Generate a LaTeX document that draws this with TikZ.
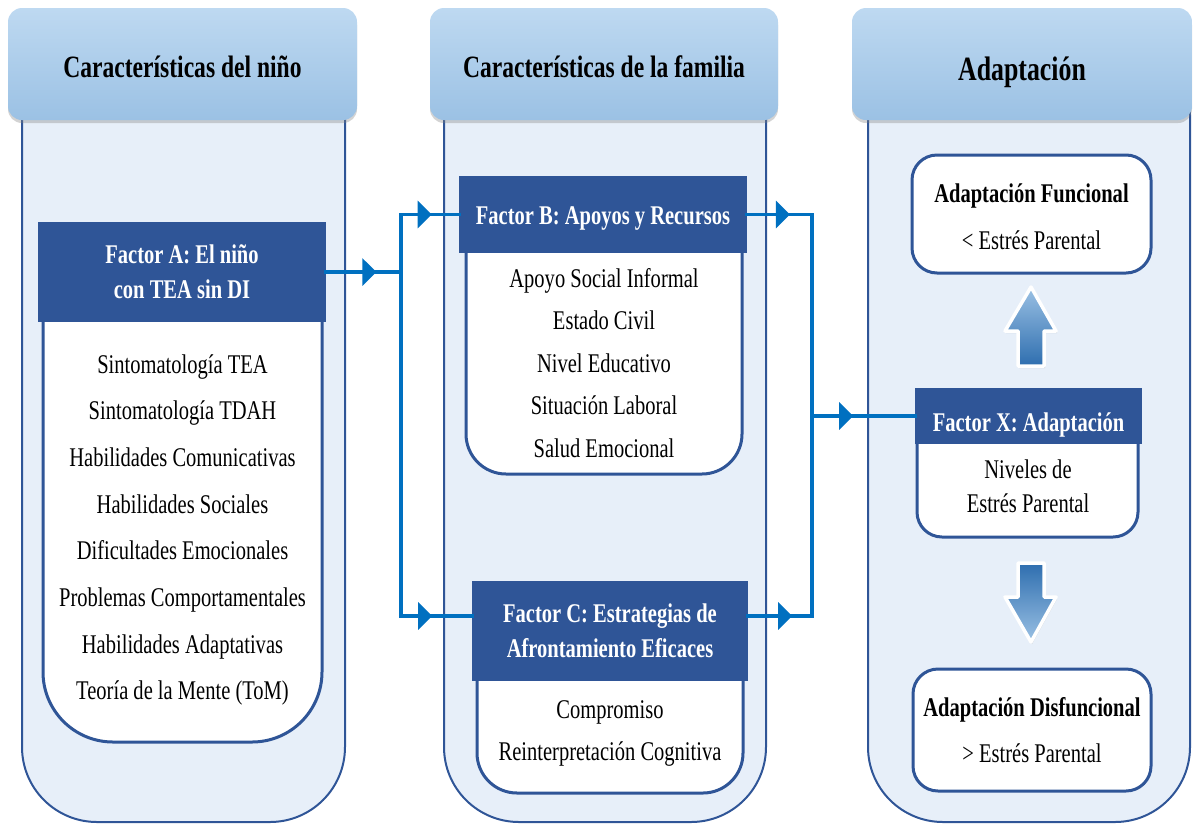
\documentclass[tikz,border=0pt]{standalone}
\usepackage{fontspec}
\setmainfont{Liberation Serif}[FakeStretch=0.76]
\usetikzlibrary{positioning,shadows,arrows.meta,decorations.markings}

\definecolor{frameblue}{RGB}{47,85,151}
\definecolor{paleblue}{RGB}{231,239,249}
\definecolor{headtop}{RGB}{190,217,241}
\definecolor{headbot}{RGB}{155,193,228}
\definecolor{linkblue}{RGB}{0,112,192}
\definecolor{arrowdark}{RGB}{46,110,175}

\tikzset{
  colbody/.style={draw=frameblue, line width=2pt, fill=paleblue, rounded corners=75pt, inner sep=0pt},
  colhead/.style={top color=headtop, bottom color=headbot, rounded corners=14pt, inner sep=0pt,
    drop shadow={opacity=0.35, shadow xshift=0pt, shadow yshift=-3pt},
    text height=27pt, text depth=0pt,
    font=\fontsize{31}{36}\selectfont\bfseries},
  factorbox/.style={fill=frameblue, text=white, inner sep=0pt, align=center,
    font=\fontsize{27}{35}\selectfont\bfseries},
  listbox/.style={draw=frameblue, line width=3pt, fill=white, inner sep=0pt},
  listtext/.style={align=center, inner sep=0pt, font=\fontsize{27}{#1}\selectfont},
  link/.style={draw=linkblue, line width=3.5pt, line cap=rect},
  tipat/.style={postaction={decorate}, decoration={markings,
    mark=at position #1 with {\arrow{Triangle[length=14pt,width=27pt]}}}},
  fatarrow/.style={draw=white, line width=3.5pt, line join=round,
    drop shadow={opacity=0.3, shadow xshift=1pt, shadow yshift=-2pt}}
}

\begin{document}
\begin{tikzpicture}[x=1pt,y=-1pt]
  \useasboundingbox (0,0) rectangle (1193,825);

  % columns
  \node[colbody, minimum width=323, minimum height=782] (colA) at (183.5,431) {};
  \node[colbody, minimum width=322, minimum height=782] (colB) at (605,431) {};
  \node[colbody, minimum width=322, minimum height=782] (colX) at (1029,431) {};

  \node[colhead, minimum width=349, minimum height=112] (hdA) at (182.5,64) {Características del niño};
  \node[colhead, minimum width=348, minimum height=112] (hdB) at (604,64) {Características de la familia};
  \node[colhead, minimum width=340, minimum height=112, text height=32pt,
    font=\fontsize{34}{38}\selectfont\bfseries] (hdX) at (1022,64) {Adaptación};

  % factor A
  \node[listbox, rounded corners=70pt, minimum width=279, minimum height=492] (listA) at (182.5,496) {};
  \node[factorbox, minimum width=288, minimum height=100] (facA) at (182,272) {Factor A: El niño\\con TEA sin DI};
  \node[listtext=46.7] (txtA) at (182.5,530) {Sintomatología TEA\\Sintomatología TDAH\\Habilidades Comunicativas\\Habilidades Sociales\\Dificultades Emocionales\\Problemas Comportamentales\\Habilidades Adaptativas\\Teoría de la Mente (ToM)};

  % factor B
  \node[listbox, rounded corners=40pt, minimum width=276, minimum height=284] (listB) at (604,332) {};
  \node[factorbox, minimum width=288, minimum height=77, text height=19pt, text depth=0pt] (facB) at (603,214.5) {Factor B: Apoyos y Recursos};
  \node[listtext=42.5] (txtB) at (604,363) {Apoyo Social Informal\\Estado Civil\\Nivel Educativo\\Situación Laboral\\Salud Emocional};

  % factor C
  \node[listbox, rounded corners=40pt, minimum width=266, minimum height=193] (listC) at (610,696.5) {};
  \node[factorbox, minimum width=276, minimum height=100] (facC) at (610,631) {Factor C: Estrategias de\\Afrontamiento Eficaces};
  \node[listtext=42] (txtC) at (610,733) {Compromiso\\Reinterpretación Cognitiva};

  % adaptacion
  \node[listbox, rounded corners=25pt, minimum width=239, minimum height=118] (func) at (1031.5,214) {};
  \node[listtext=47] (txtF) at (1031.5,217) {{\bfseries Adaptación Funcional}\\< Estrés Parental};
  \node[listbox, rounded corners=25pt, minimum width=221, minimum height=137] (listX) at (1027.5,468.5) {};
  \node[factorbox, minimum width=227, minimum height=56, text height=30pt, text depth=0pt] (facX) at (1028.5,416) {Factor X: Adaptación};
  \node[listtext=34] (txtX) at (1028,486) {Niveles de\\Estrés Parental};
  \node[listbox, rounded corners=25pt, minimum width=238, minimum height=122] (disf) at (1032,730) {};
  \node[listtext=46] (txtD) at (1032,730) {{\bfseries Adaptación Disfuncional}\\> Estrés Parental};

  % fat arrows
  \path[fatarrow, top color=headbot, bottom color=arrowdark]
    (1031,287) -- (1056,331) -- (1044,331) -- (1044,366) -- (1018,366) -- (1018,331) -- (1005,331) -- cycle;
  \path[fatarrow, top color=arrowdark, bottom color=headbot]
    (1031,642) -- (1056,597) -- (1044,597) -- (1044,563) -- (1018,563) -- (1018,597) -- (1005,597) -- cycle;

  % connectors
  \coordinate (jl) at (401,0);
  \coordinate (jr) at (812,0);
  \draw[link] (facB.west -| jl) -- ([yshift=15pt]facC.west -| jl);
  \draw[link] (facB.east -| jr) -- ([yshift=15pt]facC.east -| jr);
  \draw[link, tipat=0.67] (facA.east) -- (facA.east -| jl);
  \draw[link, tipat=0.53] (facB.west -| jl) -- (facB.west);
  \draw[link, tipat=0.44] ([yshift=15pt]facC.west -| jl) -- ([yshift=15pt]facC.west);
  \draw[link, tipat=0.66] (facB.east) -- (facB.east -| jr);
  \draw[link, tipat=0.69] ([yshift=15pt]facC.east) -- ([yshift=15pt]facC.east -| jr);
  \draw[link, tipat=0.40] (facX.west -| jr) -- (facX.west);
\end{tikzpicture}
\end{document}
